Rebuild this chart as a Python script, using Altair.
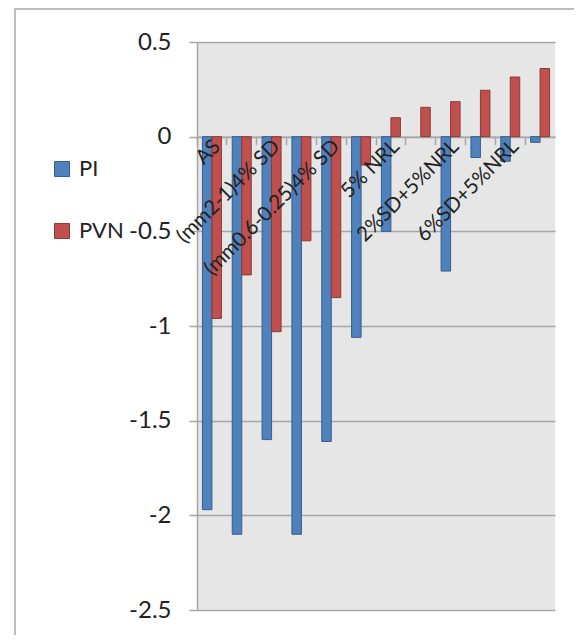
import altair as alt
import pandas as pd

# ---- data ----
cat_ids = list(range(1, 13))
cat_labels = ["AS", "", "(mm2-1)4% SD", "", "(mm0.6-0.25)4% SD", "",
              "5% NRL", "", "2%SD+5%NRL", "", "6%SD+5%NRL", ""]
pi_values = [-1.97, -2.10, -1.60, -2.10, -1.61, -1.06, -0.50, None, -0.71, -0.11, -0.13, -0.03]
pvn_values = [-0.96, -0.73, -1.03, -0.55, -0.85, -0.15, 0.10, 0.155, 0.185, 0.245, 0.315, 0.36]
series_names = ["PI", "PVN"]
y_ticks = [0.5, 0, -0.5, -1, -1.5, -2, -2.5]

rows = []
for c, a, b in zip(cat_ids, pi_values, pvn_values):
    if a is not None:
        rows.append({"cat": c, "series": "PI", "value": a})
    rows.append({"cat": c, "series": "PVN", "value": b})
bars_df = pd.DataFrame(rows)
labels_df = pd.DataFrame({"cat": cat_ids, "label": cat_labels})
one_df = pd.DataFrame({"a": [0]})

W, H = 358, 568
GRID = "#a6a6a6"
FONT = "Lato"
TXT = "#222222"

x_scale = alt.Scale(domain=cat_ids, paddingInner=0, paddingOuter=0)
y_scale = alt.Scale(domain=[-2.5, 0.5], nice=False, zero=False)

legend = alt.Legend(orient="none", legendX=-146, legendY=116, title=None,
                    symbolType="square", symbolSize=225, symbolStrokeWidth=1,
                    labelFontSize=22, labelFont=FONT, labelColor=TXT,
                    rowPadding=40, labelOffset=6)

bars = alt.Chart(bars_df).mark_bar(strokeWidth=1).encode(
    x=alt.X("cat:O", scale=x_scale,
            axis=alt.Axis(labels=False, title=None, orient="bottom",
                          offset=-(H * 5 / 6), bandPosition=0, tickSize=8,
                          tickColor=GRID, tickWidth=1.5, domainColor=GRID,
                          domainWidth=1.5, grid=False)),
    xOffset=alt.XOffset("series:N", sort=series_names,
                        scale=alt.Scale(domain=series_names, paddingOuter=0.57, paddingInner=0)),
    y=alt.Y("value:Q", scale=y_scale, stack=None,
            axis=alt.Axis(values=y_ticks, title=None, labelExpr="'' + datum.value",
                          labelFontSize=24, labelFont=FONT, labelColor=TXT,
                          tickSize=8, tickColor=GRID, tickWidth=1.5, labelPadding=18,
                          domainColor=GRID, domainWidth=1.5,
                          grid=True, gridColor=GRID, gridWidth=1.5)),
    fill=alt.Fill("series:N", sort=series_names,
                  scale=alt.Scale(domain=series_names, range=["#4f81bd", "#c0504d"]),
                  legend=legend),
    stroke=alt.Stroke("series:N", sort=series_names,
                      scale=alt.Scale(domain=series_names, range=["#385d8a", "#8c3836"]),
                      legend=legend),
)

labels = alt.Chart(labels_df).mark_text(
    angle=315, align="right", baseline="middle", dx=-1.2, dy=8.5,
    fontSize=20.5, font=FONT, color=TXT
).encode(
    x=alt.X("cat:O", scale=x_scale),
    y=alt.datum(0),
    text="label:N",
)

frame = alt.Chart(one_df).mark_rect(fill=None, fillOpacity=0, stroke=GRID, strokeWidth=1.5).encode(
    x=alt.value(-182), x2=alt.value(W + 60), y=alt.value(-33), y2=alt.value(H + 60))

chart = alt.layer(bars, labels, frame).properties(
    width=W, height=H,
    autosize=alt.AutoSizeParams(type="none"),
    padding={"left": 189, "top": 34, "right": 19, "bottom": 25},
    background="white",
).configure_view(stroke=None, fill="#e6e6e6")

chart.save("out.html", embed_options={"renderer": "svg", "actions": False})
